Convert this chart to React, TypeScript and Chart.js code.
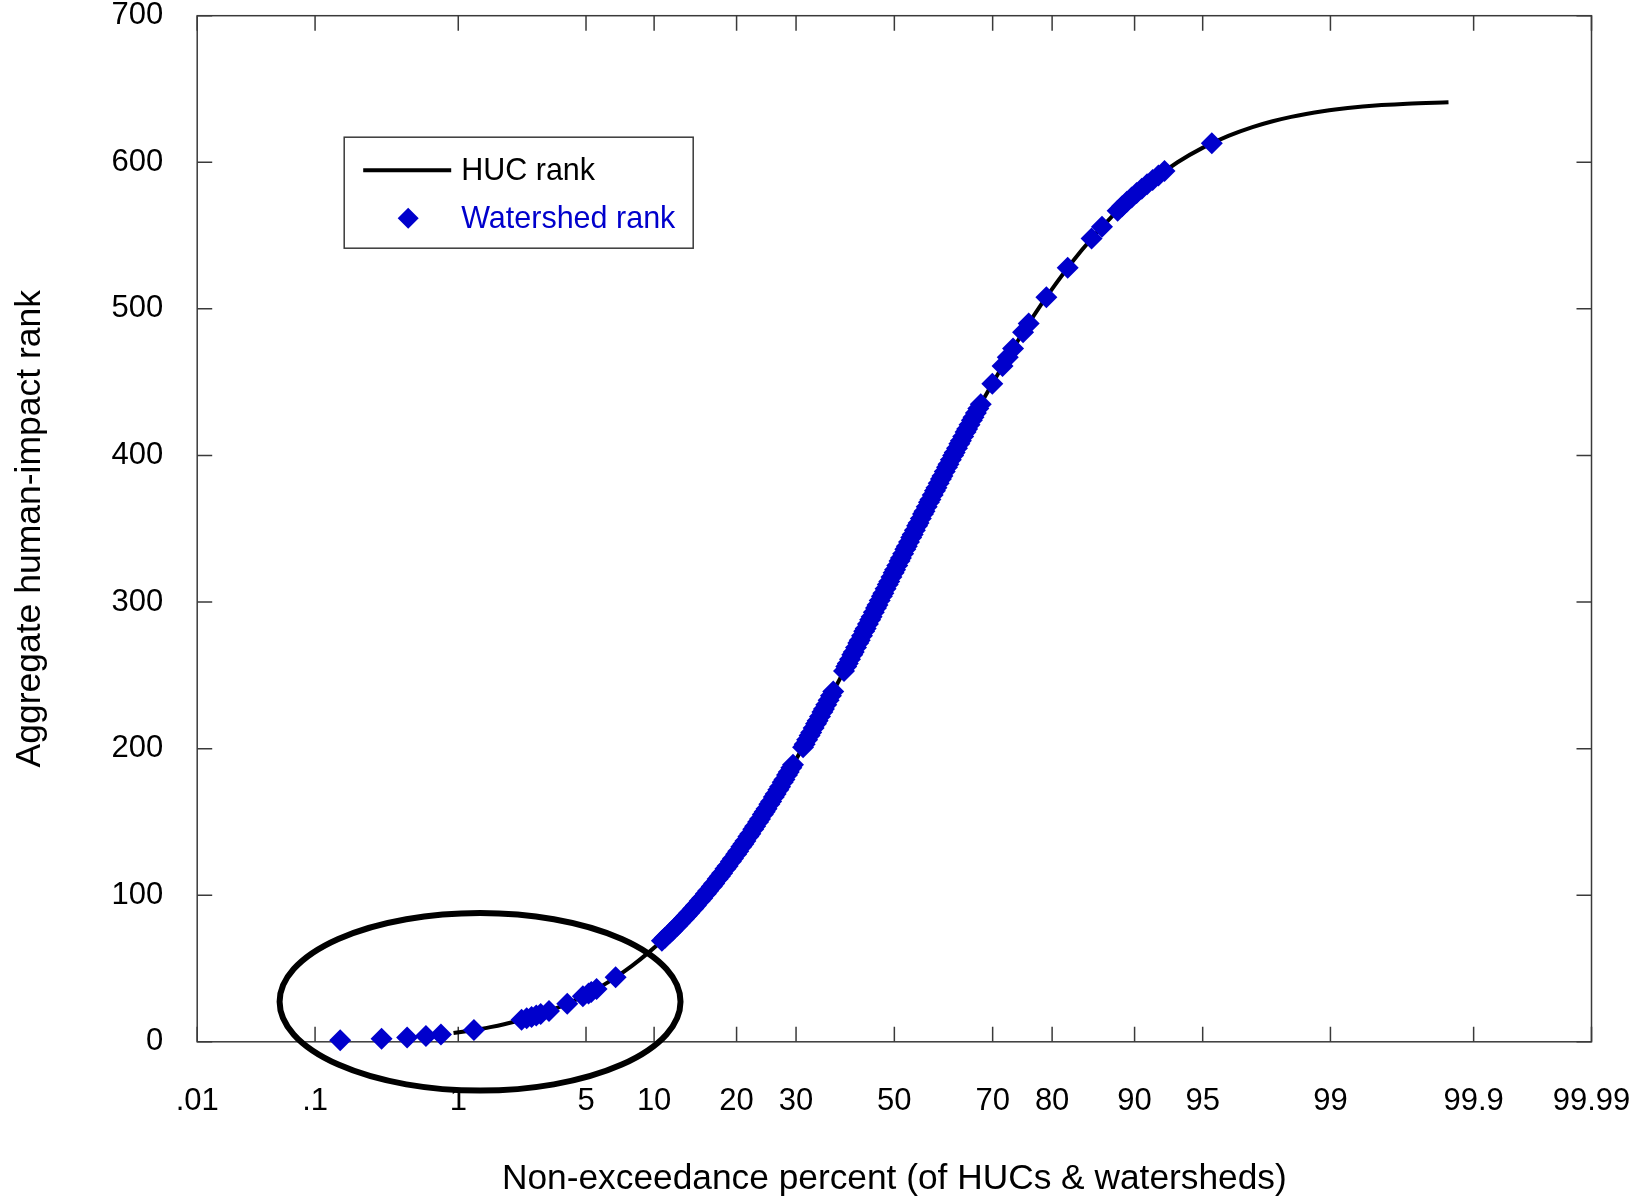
import React, { useEffect, useRef } from 'react';
import { Chart, registerables, Scale } from 'chart.js';

Chart.register(...registerables);

// ---------- data ----------
// Probability-axis ticks (non-exceedance percent)
const X_TICKS = [0.01, 0.1, 1, 5, 10, 20, 30, 50, 70, 80, 90, 95, 99, 99.9, 99.99];
const Y_MIN = 0;
const Y_MAX = 700;
const Y_STEP = 100;

// Plotting-position denominator (number of HUCs + 1)
const PLOT_POS_DENOM = 642;

// HUC rank curve, sampled ranks (y); x = plotting position of each rank
const HUC_LINE_RANKS = [
  6, 7, 8, 9, 10, 12, 14, 16, 18, 20, 24, 28, 32, 38, 44, 52, 60, 70, 85, 100,
  120, 140, 165, 190, 220, 250, 280, 320, 360, 400, 440, 480, 510, 540, 565, 585,
  600, 610, 618, 624, 628, 631, 633, 635, 636, 637, 638, 639, 640, 641,
];

// Watershed ranks (diamonds)
const WATERSHED_RANKS = [
  1, 2, 3, 4, 5, 8, 15, 16, 17, 18, 19, 21, 26, 31, 33, 34, 36, 44,
  69, 71, 74, 76, 79, 81, 84, 86, 88, 91, 93, 96, 98, 101, 103, 106, 108, 111, 113, 115,
  118, 120, 123, 125, 128, 130, 133, 135, 137, 140, 142, 145, 147, 150, 152, 155, 157, 159,
  162, 164, 167, 169, 172, 174, 177, 179, 182, 184, 187, 189,
  201, 203, 206, 209, 211, 214, 217, 219, 222, 225, 227, 230, 233, 236, 239,
  253, 256, 258, 261, 264, 266, 269, 272, 274, 277, 280, 282, 285, 288, 290, 293, 296, 298,
  301, 304, 306, 309, 312, 314, 317, 320, 322, 325, 328, 330, 333, 336, 338, 341, 344, 346,
  349, 352, 354, 357, 360, 362, 365, 368, 370, 373, 376, 378, 381, 384, 386, 389, 392, 394,
  397, 400, 402, 405, 408, 410, 413, 416, 418, 421, 424, 426, 429, 432, 435,
  449, 461, 467, 473, 484, 490, 508, 528, 548, 556,
  567, 570, 573, 576, 579, 582, 585, 588, 591, 594, 613,
];

// Annotation ellipse bounds in data units (percent, rank)
const ELLIPSE_X = [0.052, 12.7];
const ELLIPSE_Y = [-33.3, 87.9];

const LEGEND_LABELS = ['HUC rank', 'Watershed rank'];
const X_TITLE = 'Non-exceedance percent (of HUCs & watersheds)';
const Y_TITLE = 'Aggregate human-impact rank';

// ---------- probability scale ----------
function probit(p: number): number {
  const a = [-3.969683028665376e1, 2.209460984245205e2, -2.759285104469687e2, 1.38357751867269e2, -3.066479806614716e1, 2.506628277459239];
  const b = [-5.447609879822406e1, 1.615858368580409e2, -1.556989798598866e2, 6.680131188771972e1, -1.328068155288572e1];
  const c = [-7.784894002430293e-3, -3.223964580411365e-1, -2.400758277161838, -2.549732539343734, 4.374664141464968, 2.938163982698783];
  const d = [7.784695709041462e-3, 3.224671290700398e-1, 2.445134137142996, 3.754408661907416];
  const pl = 0.02425;
  const ph = 1 - pl;
  if (p <= 0) return -Infinity;
  if (p >= 1) return Infinity;
  if (p < pl) {
    const q = Math.sqrt(-2 * Math.log(p));
    return (((((c[0] * q + c[1]) * q + c[2]) * q + c[3]) * q + c[4]) * q + c[5]) / ((((d[0] * q + d[1]) * q + d[2]) * q + d[3]) * q + 1);
  }
  if (p <= ph) {
    const q = p - 0.5;
    const r = q * q;
    return ((((((a[0] * r + a[1]) * r + a[2]) * r + a[3]) * r + a[4]) * r + a[5]) * q) / (((((b[0] * r + b[1]) * r + b[2]) * r + b[3]) * r + b[4]) * r + 1);
  }
  const q = Math.sqrt(-2 * Math.log(1 - p));
  return -(((((c[0] * q + c[1]) * q + c[2]) * q + c[3]) * q + c[4]) * q + c[5]) / ((((d[0] * q + d[1]) * q + d[2]) * q + d[3]) * q + 1);
}

function normCdf(z: number): number {
  const t = 1 / (1 + 0.3275911 * Math.abs(z) / Math.SQRT2);
  const y = 1 - (((((1.061405429 * t - 1.453152027) * t) + 1.421413741) * t - 0.284496736) * t + 0.254829592) * t * Math.exp(-(z * z) / 2);
  return z >= 0 ? (1 + y) / 2 : (1 - y) / 2;
}

class ProbitScale extends (Scale as any) {
  static id = 'probit';
  static defaults = {};
  determineDataLimits() {
    const mm = (this as any).getMinMax(true);
    (this as any).min = (this as any).options.min ?? mm.min;
    (this as any).max = (this as any).options.max ?? mm.max;
  }
  buildTicks() {
    const self = this as any;
    return X_TICKS.filter((v) => v >= self.min && v <= self.max).map((value) => ({ value }));
  }
  configure() {
    super.configure();
    const self = this as any;
    self._zMin = probit(self.min / 100);
    self._zMax = probit(self.max / 100);
  }
  getLabelForValue(value: number) {
    return String(value);
  }
  getPixelForValue(value: number) {
    const self = this as any;
    const z = probit(value / 100);
    return self.getPixelForDecimal((z - self._zMin) / (self._zMax - self._zMin));
  }
  getValueForPixel(pixel: number) {
    const self = this as any;
    const dd = self.getDecimalForPixel(pixel);
    return 100 * normCdf(self._zMin + dd * (self._zMax - self._zMin));
  }
}
Chart.register(ProbitScale as any);

// ---------- styling ----------
const FONT = "'Liberation Sans', Arial, Helvetica, sans-serif";
const BLUE = '#0000cc';
const FRAME = '#3a3a3a';

const frameAndTicks = {
  id: 'frameAndTicks',
  beforeDatasetsDraw(chart: any) {
    const { ctx, chartArea: a, scales } = chart;
    const len = 15;
    ctx.save();
    ctx.strokeStyle = FRAME;
    ctx.lineWidth = 1.5;
    ctx.strokeRect(a.left, a.top, a.right - a.left, a.bottom - a.top);
    ctx.beginPath();
    scales.x.ticks.forEach((t: any) => {
      const px = scales.x.getPixelForValue(t.value);
      ctx.moveTo(px, a.bottom);
      ctx.lineTo(px, a.bottom - len);
      ctx.moveTo(px, a.top);
      ctx.lineTo(px, a.top + len);
    });
    scales.y.ticks.forEach((t: any) => {
      const py = scales.y.getPixelForValue(t.value);
      ctx.moveTo(a.left, py);
      ctx.lineTo(a.left + len, py);
      ctx.moveTo(a.right, py);
      ctx.lineTo(a.right - len, py);
    });
    ctx.stroke();
    ctx.restore();
  },
};

const ellipseAndLegend = {
  id: 'ellipseAndLegend',
  afterDraw(chart: any) {
    const { ctx, chartArea: a, scales } = chart;
    ctx.save();
    // ellipse annotation
    const x0 = scales.x.getPixelForValue(ELLIPSE_X[0]);
    const x1 = scales.x.getPixelForValue(ELLIPSE_X[1]);
    const y0 = scales.y.getPixelForValue(ELLIPSE_Y[1]);
    const y1 = scales.y.getPixelForValue(ELLIPSE_Y[0]);
    ctx.beginPath();
    ctx.ellipse((x0 + x1) / 2, (y0 + y1) / 2, (x1 - x0) / 2, (y1 - y0) / 2, 0, 0, Math.PI * 2);
    ctx.strokeStyle = '#000';
    ctx.lineWidth = 6;
    ctx.stroke();

    // legend box
    const bx = a.left + 147;
    const by = a.top + 121.5;
    const bw = 349;
    const bh = 111;
    ctx.fillStyle = '#fff';
    ctx.fillRect(bx, by, bw, bh);
    ctx.strokeStyle = FRAME;
    ctx.lineWidth = 1.5;
    ctx.strokeRect(bx, by, bw, bh);

    ctx.beginPath();
    ctx.moveTo(bx + 19, by + 33);
    ctx.lineTo(bx + 107, by + 33);
    ctx.strokeStyle = '#000';
    ctx.lineWidth = 4;
    ctx.stroke();

    const dx = bx + 64;
    const dy = by + 81;
    const r = 10.5;
    ctx.beginPath();
    ctx.moveTo(dx - r, dy);
    ctx.lineTo(dx, dy - r);
    ctx.lineTo(dx + r, dy);
    ctx.lineTo(dx, dy + r);
    ctx.closePath();
    ctx.fillStyle = BLUE;
    ctx.fill();

    ctx.font = `30.5px ${FONT}`;
    ctx.textBaseline = 'middle';
    ctx.textAlign = 'left';
    ctx.fillStyle = '#000';
    ctx.fillText(LEGEND_LABELS[0], bx + 117, by + 34);
    ctx.fillStyle = BLUE;
    ctx.fillText(LEGEND_LABELS[1], bx + 117, by + 82);
    ctx.restore();
  },
};

function fmtPercent(v: number): string {
  const s = String(v);
  return v < 1 ? s.replace(/^0/, '') : s;
}

function zeroPadding(s: any) {
  s.paddingTop = 0;
  s.paddingBottom = 0;
  s.paddingLeft = 0;
  s.paddingRight = 0;
}

export default function App() {
  const ref = useRef<HTMLCanvasElement | null>(null);

  useEffect(() => {
    if (!ref.current) return;
    const hucData = HUC_LINE_RANKS.map((r) => ({ x: (r / PLOT_POS_DENOM) * 100, y: r }));
    const wsData = WATERSHED_RANKS.map((r) => ({ x: (r / PLOT_POS_DENOM) * 100, y: r }));

    const chart = new Chart(ref.current, {
      type: 'scatter',
      data: {
        datasets: [
          {
            label: LEGEND_LABELS[1],
            data: wsData,
            pointStyle: 'rectRot',
            pointRadius: 11,
            pointBackgroundColor: BLUE,
            pointBorderColor: BLUE,
            pointBorderWidth: 0,
            showLine: false,
            clip: false as any,
            order: 0,
          },
          {
            label: LEGEND_LABELS[0],
            data: hucData,
            showLine: true,
            borderColor: '#000',
            borderWidth: 4,
            pointRadius: 0,
            cubicInterpolationMode: 'monotone',
            clip: false as any,
            order: 1,
          } as any,
        ],
      },
      options: {
        responsive: false,
        animation: false,
        devicePixelRatio: 1,
        layout: { padding: { left: 0, top: 15.7, right: 53.5, bottom: 0 } },
        plugins: {
          legend: { display: false },
          tooltip: { enabled: false },
        },
        scales: {
          x: {
            type: 'probit' as any,
            min: 0.01,
            max: 99.99,
            grid: { display: false, drawTicks: false },
            border: { display: false },
            ticks: {
              autoSkip: false,
              maxRotation: 0,
              minRotation: 0,
              padding: 41,
              color: '#000',
              font: { family: FONT, size: 31, lineHeight: 1.2 },
              callback: (v: any) => fmtPercent(Number(v)),
            },
            title: {
              display: true,
              text: X_TITLE,
              color: '#000',
              font: { family: FONT, size: 35.3, lineHeight: 1.2 },
              padding: { top: 0, bottom: 2 },
            },
            afterFit: (s: any) => {
              s.height = 1202 - 1041.8;
              zeroPadding(s);
            },
          } as any,
          y: {
            type: 'linear',
            min: Y_MIN,
            max: Y_MAX,
            grid: { display: false, drawTicks: false },
            border: { display: false },
            ticks: {
              stepSize: Y_STEP,
              padding: 34,
              color: '#000',
              font: { family: FONT, size: 31, lineHeight: 1.0 },
            },
            title: {
              display: true,
              text: Y_TITLE,
              color: '#000',
              font: { family: FONT, size: 35.5, lineHeight: 1.2 },
              padding: { top: 9, bottom: 0 },
            },
            afterFit: (s: any) => {
              s.width = 197.2;
              zeroPadding(s);
            },
          },
        },
      },
      plugins: [frameAndTicks, ellipseAndLegend],
    });
    return () => chart.destroy();
  }, []);

  return (
    <div style={{ position: 'absolute', left: 0, top: 0, width: 1645, height: 1202, background: '#fff' }}>
      <canvas ref={ref} width={1645} height={1202} style={{ display: 'block', width: 1645, height: 1202 }} />
    </div>
  );
}
